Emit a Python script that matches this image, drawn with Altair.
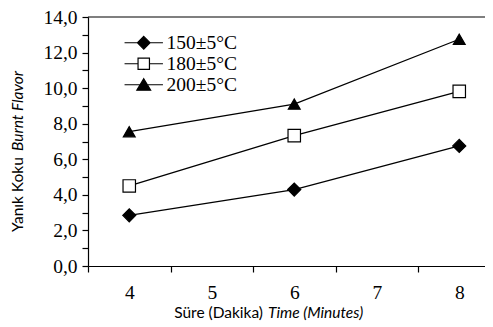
import altair as alt
import pandas as pd

# ---- data ----
times = [4, 6, 8]
series = ["150±5°C", "180±5°C", "200±5°C"]
v150 = [2.85, 4.3, 6.75]
v180 = [4.5, 7.33, 9.82]
v200 = [7.55, 9.1, 12.75]
x_ticks = [4, 5, 6, 7, 8]
y_ticks = list(range(0, 15))

rows = []
for s, vals in zip(series, [v150, v180, v200]):
    for t, v in zip(times, vals):
        rows.append({"time": t, "value": v, "series": s})
df = pd.DataFrame(rows)
one = pd.DataFrame({"k": [0]})  # single row for annotation marks

W, H = 397, 249
PX = 82.5  # px per minute
x_dom = [3.5, 3.5 + W / PX]

serif = "Liberation Serif"
sans = "Lato"
SERIF_SIZE = 19.5

xscale = alt.Scale(domain=x_dom, nice=False, zero=False)
yscale = alt.Scale(domain=[0, 14], nice=False)

xaxis = alt.Axis(values=x_ticks, tickOffset=-PX / 2, labelOffset=PX / 2, format="d",
                 title=None, grid=False, labelFont=serif, labelFontSize=SERIF_SIZE,
                 labelColor="black", tickColor="black", domainColor="black",
                 tickSize=6, labelPadding=11, domainWidth=1.2, tickWidth=1.2,
                 labelOverlap=False)
yaxis = alt.Axis(values=y_ticks, title=None, grid=False, labelOverlap=False,
                 labelExpr="datum.value % 2 == 0 ? replace(format(datum.value, '.1f'), '.', ',') : ''",
                 labelFont=serif, labelFontSize=SERIF_SIZE, labelColor="black",
                 tickColor="black", domainColor="black", tickSize=6,
                 labelPadding=5, domainWidth=1.2, tickWidth=1.2)

X = alt.X("time:Q", scale=xscale, axis=xaxis)
Y = alt.Y("value:Q", scale=yscale, axis=yaxis)

base = alt.Chart(df)

lines = base.mark_line(color="black", strokeWidth=1.3).encode(
    x=X, y=Y, detail="series:N",
)

shape_data = alt.Scale(domain=series, range=["diamond", "square", "triangle-up"])
fill_data = alt.Scale(domain=series, range=["black", "white", "black"])
size_data = alt.Scale(domain=series, range=[170, 140, 200])

points = base.mark_point(stroke="black", strokeWidth=1.2, opacity=1).encode(
    x=X, y=Y,
    shape=alt.Shape("series:N", scale=shape_data, legend=None),
    fill=alt.Fill("series:N", scale=fill_data, legend=None),
    size=alt.Size("series:N", scale=size_data, legend=None),
)

# legend symbols: marker with a line through it (unit = 6 px)
L = 3.2
legend_paths = [
    f"M-{L},0L{L},0M0,-1.05L1.05,0L0,1.05L-1.05,0Z",
    f"M-{L},0L-0.95,0M0.95,0L{L},0M-0.95,-0.95L0.95,-0.95L0.95,0.95L-0.95,0.95Z",
    f"M-{L},0L{L},0M0,-1.0L1.15,0.9L-1.15,0.9Z",
]
leg = dict(title=None, orient="none", legendX=46, legendY=16)
legend_layer = base.mark_point(strokeWidth=1.2, opacity=1).encode(
    x=X, y=Y,
    shape=alt.Shape("series:N", scale=alt.Scale(domain=series, range=legend_paths),
                    legend=alt.Legend(symbolSize=144, symbolStrokeWidth=1.2, symbolOpacity=1,
                                      labelFont=serif, labelFontSize=SERIF_SIZE,
                                      labelColor="black", labelOffset=13,
                                      rowPadding=0, padding=0, **leg)),
    fill=alt.Fill("series:N", scale=alt.Scale(domain=series, range=["black", "white", "black"]),
                  legend=alt.Legend(**leg)),
    stroke=alt.Stroke("series:N", scale=alt.Scale(domain=series, range=["black", "black", "black"]),
                      legend=alt.Legend(**leg)),
).transform_filter("false")

ann = alt.Chart(one)
top_line = ann.mark_rule(color="black", strokeWidth=1.2).encode(
    x=alt.value(0), x2=alt.value(W), y=alt.value(0)
)

title_style = dict(font=sans, fontSize=15.5, color="black", fontWeight="normal")
ytitle_plain = ann.mark_text(angle=270, align="left", baseline="middle",
                             text="Yanık Koku", **title_style).encode(
    x=alt.value(-70), y=alt.value(215))
ytitle_ital = ann.mark_text(angle=270, align="left", baseline="middle",
                            fontStyle="italic", text="Burnt Flavor", **title_style).encode(
    x=alt.value(-70), y=alt.value(134))
xtitle_plain = ann.mark_text(align="right", baseline="middle",
                             text="Süre (Dakika)", **title_style).encode(
    x=alt.value(175), y=alt.value(296))
xtitle_ital = ann.mark_text(align="left", baseline="middle", fontStyle="italic",
                            text="Time (Minutes)", **title_style).encode(
    x=alt.value(180), y=alt.value(296))

chart = alt.layer(
    lines, points, legend_layer, top_line,
    ytitle_plain, ytitle_ital, xtitle_plain, xtitle_ital,
).resolve_scale(shape="independent", fill="independent", stroke="independent").properties(
    width=W, height=H,
    autosize=alt.AutoSizeParams(type="none"),
    padding={"left": 80, "top": 9, "right": 0, "bottom": 60},
    background="white",
).configure_view(stroke=None)

chart.save("out.html", embed_options={"renderer": "svg", "actions": False})
